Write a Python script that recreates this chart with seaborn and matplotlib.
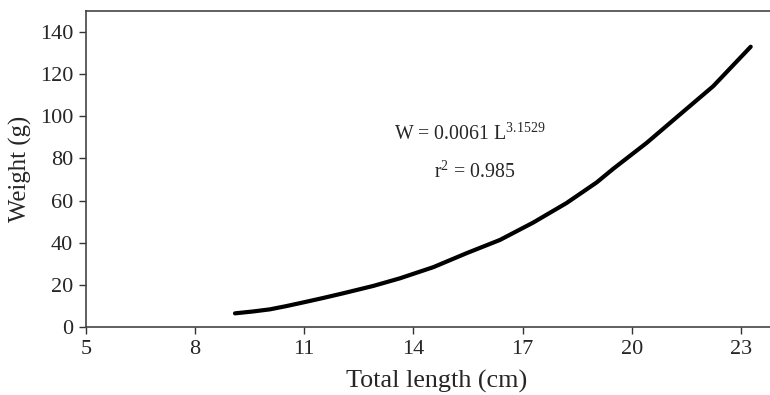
import pandas as pd
import matplotlib
matplotlib.use("Agg")
import matplotlib.pyplot as plt
import seaborn as sns

# values
length_cm = [9.10, 9.60, 10.06, 10.50, 10.98, 11.50, 12.07, 12.90, 13.63,
             14.55, 15.46, 16.38, 17.29, 18.21, 19.04, 19.49, 20.41, 21.32,
             22.24, 23.27]
weight_g = [6.5, 7.4, 8.4, 9.9, 11.7, 13.7, 16.0, 19.5, 23.1,
            28.4, 35.0, 41.3, 49.5, 58.8, 68.6, 75.0, 87.3, 100.7,
            114.2, 132.9]
x_ticks = [5, 8, 11, 14, 17, 20, 23]
y_ticks = [0, 20, 40, 60, 80, 100, 120, 140]

data = pd.DataFrame({"Length": length_cm, "Weight": weight_g})

sns.set_style("ticks")
plt.rcParams["font.family"] = ["Liberation Serif", "DejaVu Serif"]
plt.rcParams["mathtext.fontset"] = "custom"
plt.rcParams["mathtext.rm"] = "Liberation Serif"
plt.rcParams["mathtext.it"] = "Liberation Serif:italic"

f = plt.figure(figsize=(7.7, 3.95), dpi=100)
ax = f.add_axes([0.1114, 0.172, 0.8886, 0.801])

sns.lineplot(x="Length", y="Weight", data=data, color="black",
             linewidth=3.0, ax=ax)

ax.set_xlim(5, 23.8)
ax.set_ylim(0, 150)
ax.set_xticks(x_ticks)
ax.set_yticks(y_ticks)
ax.tick_params(axis="both", labelsize=16, direction="out", length=5,
               width=1, color="#333333", pad=4)

for side in ["left", "bottom", "top"]:
    ax.spines[side].set_color("#444444")
    ax.spines[side].set_linewidth(1.2)
ax.spines["right"].set_visible(False)

ax.set_xlabel("Total length (cm)", fontsize=18.8)
ax.xaxis.set_label_coords(0.513, -0.135)
ax.set_ylabel("Weight (g)", fontsize=17.8, labelpad=6)

ax.text(15.55, 91.2, r"W = 0.0061 L$^{3.1529}$", fontsize=14.3,
        ha="center", va="center")
ax.text(15.69, 73.6, r"r$^{2}$ = 0.985", fontsize=14.3,
        ha="center", va="center")

f.savefig("out.png")
